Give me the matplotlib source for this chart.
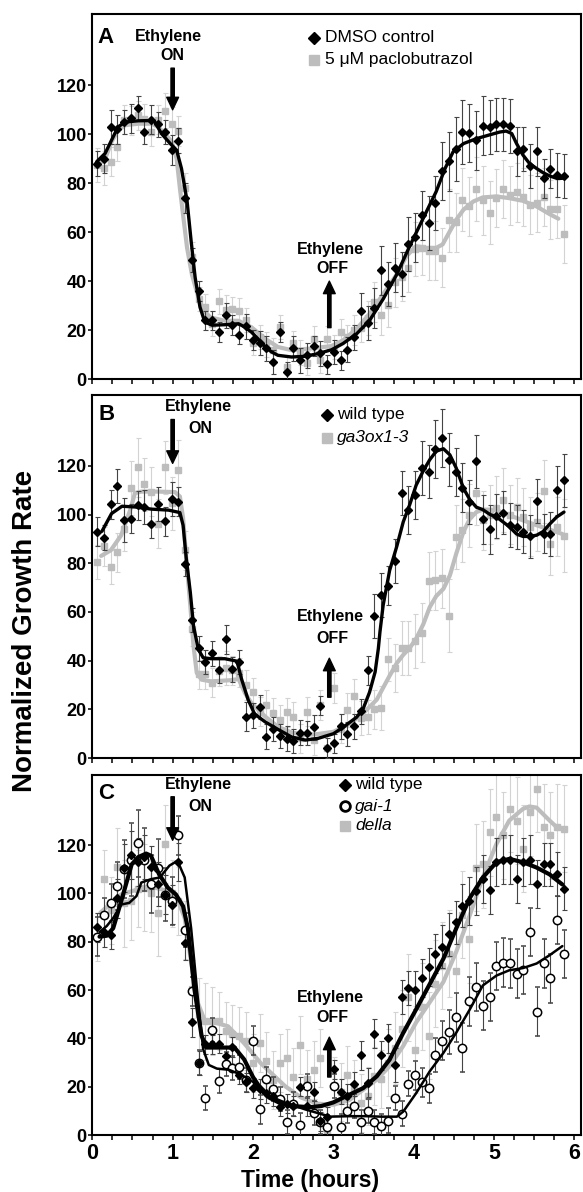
import numpy as np
import matplotlib
matplotlib.use("Agg")
import matplotlib.pyplot as plt

plt.rcParams['font.family'] = ['Liberation Sans', 'DejaVu Sans']

# ---------------- data ----------------
time_h = np.round(np.linspace(0.06, 5.87, 70), 3)

# Panel A
a_dmso = [88, 90, 103, 102, 105, 106.5, 110.8, 101, 106, 104,
          101, 93.5, 97.4, 74, 48.6, 36, 24, 24, 19.2, 26,
          22, 18.2, 21.5, 16, 14.7, 12.5, 7, 19.2, 3, 12.5,
          7.6, 9.7, 13.4, 10.5, 6, 11, 7.6, 12, 17, 28,
          23, 29, 44.4, 39, 45.5, 43, 55, 58, 67, 63.7,
          72, 85, 89, 94, 101, 100.5, 97.5, 103.5, 103, 104,
          104, 103.5, 93, 94, 87, 93, 82, 86, 83.5, 83]
a_dmso_err = [5, 6, 7, 6, 5, 6, 5, 5, 6, 5, 5, 6, 5, 6, 5, 4, 4, 4, 4, 5,
              4, 4, 5, 4, 5, 5, 5, 4, 4, 5, 5, 5, 4, 5, 4, 5, 4, 5, 5, 7,
              7, 8, 10, 9, 10, 9, 11, 10, 10, 11, 11, 12, 12, 13, 13, 12, 12, 12, 11, 11,
              11, 11, 10, 9, 9, 10, 8, 8, 9, 9]
a_pac = [87.4, 86.3, 88.8, 94.9, 106, 105.7, 107.7, 106.3, 101, 106,
         109.7, 104.3, 101.3, 78, 50, 32.7, 29.6, 22.6, 31.7, 28.2,
         28.6, 28, 24.2, 14.8, 17.2, 14.2, 11.9, 21.2, 5, 14.8,
         10.8, 6.6, 16.5, 7.6, 16.5, 13.1, 19.4, 17, 20, 21,
         25, 31.5, 26, 30.4, 39.6, 41.8, 45.5, 53, 53.5, 52.4,
         52.4, 49.6, 64.8, 64, 73.3, 70.5, 77.6, 73, 68, 74,
         77.6, 75, 76.3, 74.4, 71.3, 72, 74.4, 69.3, 69.5, 59.3]
a_pac_err = [7, 7, 6, 6, 6, 6, 6, 6, 6, 6, 7, 7, 6, 6, 6, 5, 5, 5, 5, 6,
             5, 5, 5, 5, 5, 5, 5, 5, 5, 5, 5, 5, 5, 5, 5, 5, 5, 5, 6, 6,
             7, 8, 8, 9, 10, 10, 10, 11, 11, 12, 12, 12, 13, 12, 13, 12, 13, 14, 13, 12,
             12, 12, 12, 12, 12, 12, 12, 12, 12, 12]
a_dmso_fit_t = [0.055, 0.16, 0.24, 0.32, 0.41, 0.57, 0.74, 0.78, 0.86, 0.97,
                1.05, 1.11, 1.18, 1.23, 1.28, 1.34, 1.40, 1.49, 1.65, 1.82,
                1.90, 1.98, 2.06, 2.15, 2.23, 2.31, 2.48, 2.65, 2.81, 2.98,
                3.12, 3.29, 3.45, 3.62, 3.79, 3.95, 4.12, 4.28, 4.39, 4.49,
                4.62, 4.78, 4.95, 5.07, 5.15, 5.22, 5.28, 5.36, 5.44, 5.53,
                5.61, 5.69, 5.78, 5.85]
a_dmso_fit_y = [88.8, 92.2, 97.6, 103, 105, 105.5, 105.6, 105, 100.3, 96.2,
                93.5, 86, 72.6, 56.4, 41.5, 29.4, 23.3, 22, 22.2, 22.6,
                21.2, 19.2, 16.5, 13.1, 11.1, 9.7, 9, 9.3, 10.4, 12,
                14.5, 18.5, 23.9, 32.7, 42.8, 54.3, 65.8, 76.6, 86, 92.8,
                96.2, 98.2, 99.8, 100.9, 101.3, 100.3, 96.2, 91.5, 88.1, 86,
                84.3, 83, 82, 82]
a_pac_fit_t = [0.055, 0.16, 0.24, 0.32, 0.41, 0.57, 0.74, 0.82, 0.90, 0.99,
               1.05, 1.09, 1.13, 1.18, 1.24, 1.32, 1.39, 1.47, 1.65, 1.82,
               1.98, 2.15, 2.31, 2.48, 2.73, 2.98, 3.12, 3.29, 3.45, 3.62,
               3.79, 3.91, 4.03, 4.15, 4.28, 4.36, 4.45, 4.53, 4.62, 4.74,
               4.86, 5.03, 5.19, 5.36, 5.53, 5.69, 5.80]
a_pac_fit_y = [87, 90, 96.9, 101.6, 103.7, 104.3, 104.3, 103, 100.3, 96.9,
               90, 78, 67, 53.5, 42.7, 33.3, 27.9, 25.2, 23.8, 23.8,
               21.2, 16.5, 13.1, 11.8, 12.5, 13.5, 15.8, 20.5, 26.6, 34.7,
               42.8, 50.2, 54.3, 53.6, 53.6, 55, 60.4, 65.1, 69.2, 72.5,
               74.2, 74.6, 73.9, 72.8, 70.5, 67.4, 65.5]

# Panel B
b_wt = [93, 90.5, 104.2, 111.8, 97.6, 98.3, 103.7, 103, 96.3, 104.4,
        97.2, 106.3, 105.2, 79.6, 56.7, 45, 39.5, 43, 36, 48.8,
        36.4, 39.5, 17, 17.5, 21, 8.8, 12, 9, 8, 7,
        10.5, 10.2, 12.6, 21.5, 4.1, 6, 13, 10, 13, 19.2,
        36, 58.4, 67, 70.7, 81, 109, 101.8, 108, 119, 117.6,
        127, 131.4, 122.5, 117.4, 111, 105, 121.8, 98, 93.9, 99.5,
        100.8, 95.7, 95, 93, 91, 105.5, 92.2, 92, 110, 114]
b_wt_err = [6, 5, 6, 7, 9, 6, 6, 7, 6, 7, 6, 7, 6, 5, 5, 5, 5, 5, 5, 6,
            5, 5, 6, 5, 5, 5, 5, 5, 5, 5, 5, 5, 5, 4, 4, 4, 5, 5, 5, 5,
            6, 9, 9, 8, 9, 9, 10, 10, 11, 11, 12, 12, 11, 10, 10, 9, 11, 10, 10, 9,
            9, 9, 9, 9, 9, 9, 8, 9, 10, 11]
b_ga = [80.4, 86.9, 78.6, 84.5, 94, 110.8, 119.3, 112.4, 109.4, 96.3,
        119.3, 104.6, 118.4, 85.3, 53, 34.4, 34.4, 31, 35.8, 37,
        36, 35, 30, 27, 19, 22, 18.5, 15.7, 18.8, 17,
        8.1, 19, 7.4, 21.8, 4, 28.8, 12, 19.8, 25.3, 16.6,
        17, 20, 20.4, 40.5, 37, 45.3, 45.3, 48, 51.5, 72.8,
        73, 73.8, 58.4, 90.8, 93.5, 99.7, 108.8, 97.6, 100, 102.8,
        106, 100, 103, 99, 95, 97, 109.5, 88, 95, 91.2]
b_ga_err = [7, 8, 7, 8, 9, 11, 12, 11, 10, 10, 11, 11, 12, 8, 7, 6, 6, 6, 6, 7,
            6, 6, 6, 6, 6, 6, 6, 6, 6, 6, 6, 6, 6, 6, 6, 6, 6, 7, 7, 7,
            7, 8, 9, 9, 10, 11, 11, 11, 12, 12, 12, 12, 15, 13, 13, 13, 13, 12, 12, 13,
            13, 12, 12, 12, 12, 12, 13, 13, 12, 15]
b_wt_fit_t = [0.12, 0.24, 0.37, 0.53, 0.74, 0.95, 1.09, 1.13, 1.17, 1.22,
              1.26, 1.32, 1.38, 1.48, 1.65, 1.80, 1.86, 1.94, 2.02, 2.15,
              2.31, 2.48, 2.65, 2.81, 3.0, 3.12, 3.29, 3.37, 3.45, 3.52,
              3.56, 3.58, 3.62, 3.70, 3.79, 3.87, 3.95, 4.03, 4.12, 4.20,
              4.28, 4.37, 4.45, 4.53, 4.62, 4.70, 4.78, 4.86, 4.95, 5.03,
              5.11, 5.19, 5.28, 5.36, 5.44, 5.53, 5.61, 5.69, 5.78, 5.87]
b_wt_fit_y = [93.1, 100.4, 103.4, 103.1, 102.2, 101.8, 100.8, 95.6, 81.8, 68,
              54.2, 44.6, 41.2, 40.8, 40.8, 39.8, 32.2, 23.9, 18.1, 14.9,
              11.8, 8.7, 7.4, 8.1, 10, 12.6, 16.8, 20.2, 27, 35.4,
              45, 51.8, 62.8, 77, 87, 97, 104, 112, 118, 122.5,
              126, 127, 124.5, 119, 110.7, 106, 103, 102, 100, 99,
              97, 95, 92, 91, 91, 91.5, 93, 96, 99, 101]
b_ga_fit_t = [0.11, 0.23, 0.36, 0.48, 0.53, 0.61, 0.82, 1.03, 1.09, 1.13,
              1.17, 1.22, 1.26, 1.30, 1.36, 1.48, 1.73, 1.82, 1.90, 1.98,
              2.15, 2.31, 2.48, 2.65, 2.81, 3.0, 3.2, 3.37, 3.54, 3.70,
              3.79, 3.87, 3.95, 4.03, 4.12, 4.20, 4.28, 4.37, 4.45, 4.53,
              4.62, 4.70, 4.78, 4.86, 4.95, 5.03, 5.19, 5.36, 5.53, 5.69,
              5.85]
b_ga_fit_y = [83, 85.3, 91.5, 102.6, 108.8, 109.4, 109.4, 109.2, 107.4, 98.5,
              81.8, 62.5, 46, 35, 32.2, 31.5, 32, 32.5, 26.7, 22.6,
              17.1, 12.9, 10.5, 9.5, 9.9, 10.8, 14, 18.4, 24, 33.8,
              39, 42.4, 45.2, 49, 55, 62, 66.5, 69.5, 75, 84,
              93, 98.3, 101, 102, 102, 101.8, 99.7, 97.6, 95.6, 93.8,
              92]

# Panel C
c_wt = [86, 84, 82.8, 98, 110.6, 115.8, 113, 115, 110.8, 104,
        99.5, 95.4, 113, 79.3, 46.6, 29.9, 37.5, 37.5, 37.8, 32.6,
        36.5, 25, 21.8, 19.4, 19, 17.4, 16, 11.8, 13, 12,
        20, 12, 18, 5.6, 7.6, 27.2, 18, 16, 21, 33,
        21.7, 42, 33, 40, 29, 57, 61, 60, 65, 69.5,
        75, 78, 83, 88, 95, 97, 101, 106, 101.4, 113,
        114, 114, 106, 113, 114, 104, 112, 112, 108, 102]
c_wt_err = [6, 6, 6, 8, 10, 10, 10, 9, 9, 9, 8, 8, 8, 7, 6, 5, 4, 4, 4, 4,
            4, 4, 4, 4, 4, 4, 4, 4, 4, 4, 4, 4, 4, 4, 4, 4, 5, 5, 5, 6,
            6, 6, 6, 6, 7, 7, 7, 8, 8, 8, 8, 9, 9, 9, 9, 10, 10, 10, 10, 10,
            10, 10, 10, 10, 10, 10, 9, 9, 9, 9]
c_gai = [82.1, 91.2, 96, 103, 110, 114, 120.7, 114, 103.7, 110.5,
         99.5, 97, 124, 84.9, 59.5, 30, 15.3, 43.6, 22.3, 29.3,
         27.9, 28.3, 22.8, 39, 10.6, 23, 19, 15, 5.5, 13,
         4.2, 20.2, 9, 5.5, 3.4, 20.3, 3.5, 10, 12, 5.5,
         9.8, 5.5, 3.7, 6, 15.3, 8.9, 21.3, 24.7, 21.9, 19.4,
         33, 39, 42.7, 48.7, 36.2, 55.3, 61.2, 53.6, 57, 70,
         71.4, 71, 66.8, 68.2, 84, 51.1, 71, 64.8, 89, 75]
c_gai_err = [8, 7, 8, 10, 12, 15, 14, 13, 12, 12, 11, 10, 8, 7, 6, 5, 5, 5, 5, 5,
             5, 5, 5, 6, 6, 5, 5, 5, 5, 5, 5, 5, 5, 5, 5, 5, 5, 5, 5, 5,
             5, 5, 5, 5, 5, 5, 5, 6, 6, 6, 7, 8, 9, 10, 10, 10, 10, 10, 10, 10,
             10, 10, 10, 10, 10, 10, 10, 10, 10, 10]
c_della = [82, 105.8, 93, 110.9, 96, 96.7, 102, 102.3, 100, 91.9,
           120.4, 100, 96.8, 85, 60.5, 50, 47, 47.3, 47, 43.2,
           42, 41, 39, 30, 38, 30.6, 22.9, 30, 32, 24,
           37.2, 23, 27, 32, 0.5, 20.2, 18, 25, 19, 13.2,
           16, 24.3, 23, 30, 36, 44, 57.1, 35.3, 53, 41.1,
           62.6, 70, 75.1, 68, 91.1, 81, 110.7, 112, 125.3, 131.8,
           124, 135, 130, 118.5, 133.6, 143.4, 127.4, 124, 127.4, 126.7]
c_della_err = [10, 12, 14, 16, 18, 16, 16, 18, 16, 18, 16, 14, 14, 12, 12, 15, 16, 14, 12, 12,
               12, 12, 12, 12, 12, 12, 12, 12, 12, 12, 12, 12, 12, 12, 12, 12, 12, 12, 12, 12,
               12, 12, 12, 14, 15, 16, 18, 18, 18, 18, 18, 18, 18, 18, 18, 18, 18, 18, 18, 18,
               18, 18, 18, 18, 18, 18, 18, 18, 18, 18]
c_wt_fit_t = [0.09, 0.18, 0.26, 0.36, 0.49, 0.57, 0.67, 0.73, 0.83, 0.94,
              1.04, 1.13, 1.19, 1.27, 1.36, 1.42, 1.60, 1.77, 1.89, 2.0,
              2.1, 2.2, 2.35, 2.5, 2.7, 2.85, 3.0, 3.2, 3.37, 3.54,
              3.70, 3.87, 4.03, 4.20, 4.37, 4.53, 4.70, 4.86, 5.03, 5.19,
              5.36, 5.53, 5.69, 5.85]
c_wt_fit_y = [82.1, 82.5, 85.6, 96.8, 112, 115, 116.5, 115.6, 108, 102.4,
              99.6, 94.7, 85.6, 60.6, 41.1, 36.2, 36.2, 36.2, 31.3, 24,
              19, 15.5, 13, 12, 11.5, 12, 13.5, 16.7, 19.4, 24.3,
              31.2, 42.3, 52, 62.5, 73, 85.6, 98.2, 106.6, 112.9, 114.3,
              112.9, 110.7, 107.9, 103.7]
c_gai_fit_t = [0.09, 0.18, 0.26, 0.36, 0.46, 0.55, 0.61, 0.73, 0.84, 0.96,
               1.06, 1.15, 1.23, 1.31, 1.38, 1.45, 1.55, 1.70, 1.85, 2.0,
               2.15, 2.4, 2.65, 2.96, 3.2, 3.4, 3.6, 3.79, 3.87, 4.03,
               4.2, 4.37, 4.53, 4.7, 4.86, 5.03, 5.19, 5.36, 5.53, 5.69,
               5.85]
c_gai_fit_y = [84, 86.5, 89.8, 95.4, 96.1, 98.9, 104.5, 105.9, 106.6, 111.5,
               113.5, 106.6, 85.6, 57.8, 35.5, 29, 27.5, 27, 25, 22,
               16.9, 13.4, 10.6, 7.6, 7.8, 7.8, 7.6, 7.6, 9.7, 17.3,
               26.4, 34, 42.4, 52.1, 61.9, 66, 68.2, 69.1, 71, 74.4,
               78.2]
c_della_fit_t = [0.10, 0.20, 0.36, 0.57, 0.78, 0.94, 1.06, 1.15, 1.23, 1.31,
                 1.40, 1.52, 1.69, 1.89, 2.10, 2.40, 2.60, 2.80, 3.0, 3.2,
                 3.37, 3.54, 3.70, 3.87, 4.03, 4.20, 4.37, 4.53, 4.70, 4.86,
                 5.03, 5.19, 5.36, 5.44, 5.53, 5.69, 5.78, 5.85]
c_della_fit_y = [92, 95, 99.6, 101.7, 102.4, 101, 97.5, 89.8, 71.7, 55,
                 47.3, 46.6, 45, 38, 29.6, 20.2, 15.5, 13, 12.5, 14.5,
                 18.7, 22.9, 28.5, 36.9, 46.6, 55, 63.4, 75.9, 91.2, 106.6,
                 120.5, 130.2, 135, 136, 135.5, 130.2, 127.4, 127]

x_ticks = [0, 1, 2, 3, 4, 5, 6]
y_ticks = [0, 20, 40, 60, 80, 100, 120]

# ---------------- style ----------------
GRAY = '#bdbdbd'
GRAY_ERR = '#d3d3d3'
DARK_ERR = '#444444'

fig = plt.figure(figsize=(5.83, 11.92), dpi=100)
left, width = 0.1583, 0.838
axA = fig.add_axes([left, 0.682, width, 0.306])
axB = fig.add_axes([left, 0.364, width, 0.3045])
axC = fig.add_axes([left, 0.0478, width, 0.302])


def squares(ax, y, err):
    ax.errorbar(time_h, y, yerr=err, fmt='s', ms=4.8, color=GRAY, mec=GRAY,
                ecolor=GRAY_ERR, elinewidth=0.8, capsize=1.8, capthick=0.8, zorder=2)


def diamonds(ax, y, err):
    ax.errorbar(time_h, y, yerr=err, fmt='D', ms=3.7, color='black', mec='black',
                ecolor=DARK_ERR, elinewidth=0.8, capsize=1.8, capthick=0.8, zorder=4)


def circles(ax, y, err):
    ax.errorbar(time_h, y, yerr=err, fmt='o', ms=6.0, mfc='white', mec='black', mew=1.1,
                ecolor=DARK_ERR, elinewidth=0.8, capsize=1.8, capthick=0.8, zorder=4)


def arrow(ax, x, y_from, y_to):
    ax.annotate('', xy=(x, y_to), xytext=(x, y_from),
                arrowprops=dict(facecolor='black', edgecolor='black', width=2.4,
                                headwidth=8.5, headlength=9, shrink=0), zorder=7)


def style(ax, show_x):
    ax.set_xlim(0, 6.08)
    ax.set_ylim(0, 149)
    ax.set_xticks(x_ticks)
    ax.set_xticks(np.arange(0, 6.01, 0.25), minor=True)
    ax.set_yticks(y_ticks)
    for s in ax.spines.values():
        s.set_linewidth(1.5)
    ax.tick_params(axis='x', which='both', direction='out', length=3.5, width=1.1,
                   labelbottom=show_x, labelsize=15.5, pad=2)
    ax.tick_params(axis='y', direction='out', length=3, width=1.1, labelsize=13, pad=1)
    for lbl in ax.get_yticklabels() + ax.get_xticklabels():
        lbl.set_fontweight('bold')


# ---- Panel A ----
squares(axA, a_pac, a_pac_err)
axA.plot(a_pac_fit_t, a_pac_fit_y, color=GRAY, lw=3, zorder=3, solid_capstyle='round')
diamonds(axA, a_dmso, a_dmso_err)
axA.plot(a_dmso_fit_t, a_dmso_fit_y, color='black', lw=2.4, zorder=5, solid_capstyle='round')
style(axA, False)
axA.text(0.07, 139.5, 'A', fontsize=16, fontweight='bold', va='center', ha='left')
axA.text(0.95, 140, 'Ethylene', fontsize=11.5, fontweight='bold', ha='center', va='center')
axA.text(1.0, 132, 'ON', fontsize=11.5, fontweight='bold', ha='center', va='center')
arrow(axA, 1.0, 127, 110)
axA.text(2.96, 53, 'Ethylene', fontsize=11.5, fontweight='bold', ha='center', va='center')
axA.text(2.99, 45, 'OFF', fontsize=11.5, fontweight='bold', ha='center', va='center')
arrow(axA, 2.95, 21, 40)
axA.plot([2.76], [139.5], marker='D', ms=6.5, color='black', ls='none', zorder=6)
axA.text(2.90, 139.5, 'DMSO control', fontsize=12.5, va='center', ha='left')
axA.plot([2.76], [130.5], marker='s', ms=7, color=GRAY, ls='none', zorder=6)
axA.text(2.90, 130.5, '5 \u03bcM paclobutrazol', fontsize=12.5, va='center', ha='left')

# ---- Panel B ----
squares(axB, b_ga, b_ga_err)
axB.plot(b_ga_fit_t, b_ga_fit_y, color=GRAY, lw=3, zorder=3, solid_capstyle='round')
diamonds(axB, b_wt, b_wt_err)
axB.plot(b_wt_fit_t, b_wt_fit_y, color='black', lw=2.4, zorder=5, solid_capstyle='round')
style(axB, False)
axB.text(0.08, 141, 'B', fontsize=16, fontweight='bold', va='center', ha='left')
axB.text(1.32, 144.5, 'Ethylene', fontsize=11.5, fontweight='bold', ha='center', va='center')
axB.text(1.35, 135.5, 'ON', fontsize=11.5, fontweight='bold', ha='center', va='center')
arrow(axB, 1.0, 139, 121)
axB.text(2.96, 58, 'Ethylene', fontsize=11.5, fontweight='bold', ha='center', va='center')
axB.text(2.99, 49, 'OFF', fontsize=11.5, fontweight='bold', ha='center', va='center')
arrow(axB, 2.95, 25, 41)
axB.plot([2.92], [141], marker='D', ms=6.5, color='black', ls='none', zorder=6)
axB.text(3.05, 141, 'wild type', fontsize=12.5, va='center', ha='left')
axB.plot([2.92], [131.5], marker='s', ms=7, color=GRAY, ls='none', zorder=6)
axB.text(3.05, 131.5, 'ga3ox1-3', fontsize=12.5, va='center', ha='left', fontstyle='italic')

# ---- Panel C ----
squares(axC, c_della, c_della_err)
axC.plot(c_della_fit_t, c_della_fit_y, color=GRAY, lw=3, zorder=3, solid_capstyle='round')
circles(axC, c_gai, c_gai_err)
diamonds(axC, c_wt, c_wt_err)
axC.plot(c_gai_fit_t, c_gai_fit_y, color='black', lw=1.8, zorder=5, solid_capstyle='round')
axC.plot(c_wt_fit_t, c_wt_fit_y, color='black', lw=3, zorder=5, solid_capstyle='round')
style(axC, True)
axC.text(0.07, 141.5, 'C', fontsize=16, fontweight='bold', va='center', ha='left')
axC.text(1.32, 145, 'Ethylene', fontsize=11.5, fontweight='bold', ha='center', va='center')
axC.text(1.35, 136, 'ON', fontsize=11.5, fontweight='bold', ha='center', va='center')
arrow(axC, 1.0, 140, 122)
axC.text(2.96, 57, 'Ethylene', fontsize=11.5, fontweight='bold', ha='center', va='center')
axC.text(2.99, 48.5, 'OFF', fontsize=11.5, fontweight='bold', ha='center', va='center')
arrow(axC, 2.95, 24, 40.5)
axC.plot([3.15], [145], marker='D', ms=6.5, color='black', ls='none', zorder=6)
axC.text(3.27, 145, 'wild type', fontsize=12.5, va='center', ha='left')
axC.plot([3.15], [136], marker='o', ms=7, mfc='white', mec='black', mew=2, ls='none', zorder=6)
axC.text(3.27, 136, 'gai-1', fontsize=12.5, va='center', ha='left', fontstyle='italic')
axC.plot([3.15], [128], marker='s', ms=7, color=GRAY, ls='none', zorder=6)
axC.text(3.27, 128, 'della', fontsize=12.5, va='center', ha='left', fontstyle='italic')

fig.text(0.043, 0.4706, 'Normalized Growth Rate', rotation=90, ha='center', va='center',
         fontsize=20, fontweight='bold')
fig.text(0.532, 0.0095, 'Time (hours)', ha='center', va='center', fontsize=16.5,
         fontweight='bold')

fig.savefig('out.png', dpi=100)
